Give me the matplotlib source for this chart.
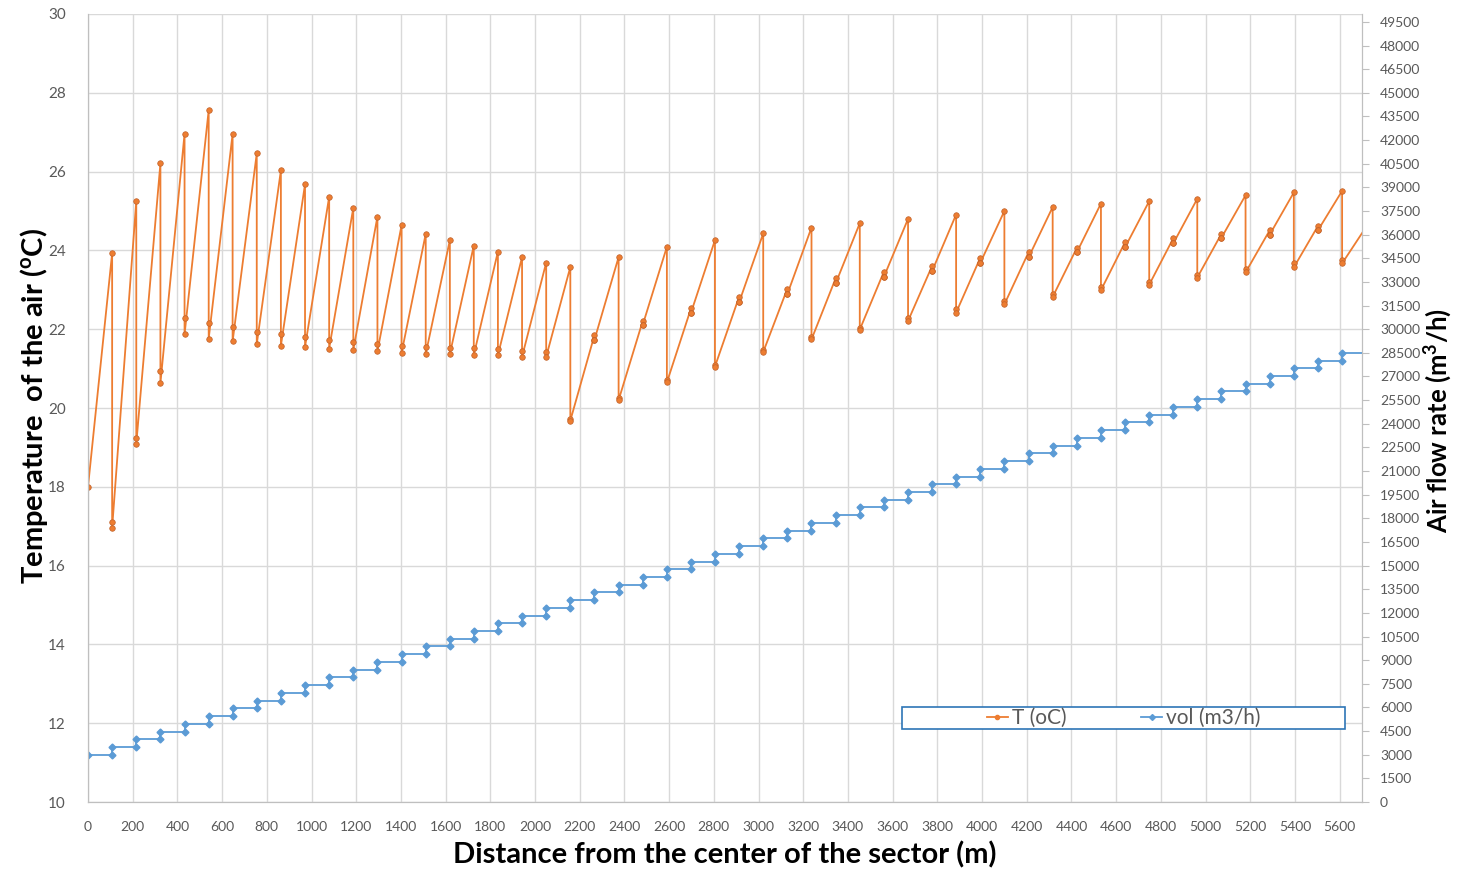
import matplotlib
matplotlib.use("Agg")
from matplotlib import pyplot as plt
from matplotlib.lines import Line2D
from matplotlib.patches import Rectangle

plt.rcParams['font.family'] = ['Lato', 'DejaVu Sans']
plt.rcParams['mathtext.fontset'] = 'custom'
plt.rcParams['mathtext.rm'] = 'Lato'
plt.rcParams['mathtext.bf'] = 'Lato:bold'

# node positions along the pipe (m)
node_dist = [0, 108, 216, 324, 432, 540, 647, 755, 863, 971,
             1079, 1187, 1295, 1403, 1511, 1619, 1726, 1834, 1942, 2050,
             2158, 2266, 2374, 2482, 2590, 2698, 2805, 2913, 3021, 3129,
             3237, 3345, 3453, 3561, 3669, 3777, 3884, 3992, 4100, 4208,
             4316, 4424, 4532, 4640, 4748, 4856, 4963, 5071, 5179, 5287,
             5395, 5503, 5611, 5719]

# temperature at each node: arriving, after mixing, leaving
t_in = [18.0, 23.93, 25.25, 26.21, 26.96, 27.56, 26.96, 26.46, 26.03, 25.68,
        25.36, 25.08, 24.86, 24.64, 24.42, 24.26, 24.12, 23.97, 23.83, 23.69,
        23.58, 21.85, 23.83, 22.21, 24.09, 22.53, 24.26, 22.82, 24.43, 23.03,
        24.58, 23.29, 24.69, 23.46, 24.80, 23.61, 24.91, 23.81, 25.00, 23.95,
        25.10, 24.06, 25.19, 24.21, 25.25, 24.31, 25.31, 24.42, 25.40, 24.51,
        25.47, 24.62, 25.51, 24.60]
t_mix = [18.0, 17.10, 19.25, 20.94, 22.29, 22.15, 22.05, 21.94, 21.87, 21.80,
         21.73, 21.68, 21.62, 21.58, 21.55, 21.52, 21.52, 21.49, 21.45, 21.42,
         19.72, 21.73, 20.25, 22.11, 20.70, 22.42, 21.10, 22.68, 21.47, 22.89,
         21.79, 23.16, 22.04, 23.33, 22.29, 23.48, 22.51, 23.68, 22.72, 23.82,
         22.90, 23.95, 23.08, 24.08, 23.21, 24.18, 23.38, 24.32, 23.53, 24.40,
         23.67, 24.51, 23.76, 24.60]
t_out = [18.0, 16.96, 19.09, 20.63, 21.87, 21.76, 21.69, 21.62, 21.58, 21.55,
         21.51, 21.47, 21.44, 21.40, 21.37, 21.37, 21.34, 21.34, 21.30, 21.30,
         19.68, 21.73, 20.20, 22.11, 20.65, 22.42, 21.05, 22.68, 21.42, 22.89,
         21.74, 23.16, 21.99, 23.33, 22.21, 23.48, 22.42, 23.68, 22.63, 23.82,
         22.82, 23.95, 22.99, 24.08, 23.13, 24.18, 23.31, 24.32, 23.44, 24.40,
         23.57, 24.51, 23.67, 24.60]

# air flow leaving each node (m3/h)
vol = [3000, 3490, 3980, 4470, 4960, 5450, 5940, 6430, 6920, 7410,
       7900, 8390, 8880, 9380, 9870, 10360, 10850, 11340, 11830, 12320,
       12810, 13300, 13790, 14280, 14770, 15260, 15750, 16240, 16730, 17220,
       17710, 18200, 18690, 19180, 19670, 20160, 20650, 21150, 21640, 22130,
       22620, 23110, 23600, 24090, 24580, 25070, 25560, 26050, 26540, 27030,
       27520, 28010, 28500, 28990]

T_COL = '#ED7D31'
V_COL = '#5B9BD5'
GRID = '#d9d9d9'
TXT = '#595959'

# build the point sequences
tx, ty = [], []
for i, d in enumerate(node_dist):
    if i == 0:
        tx.append(d); ty.append(t_in[i])
        continue
    tx += [d, d, d]
    ty += [t_in[i], t_mix[i], t_out[i]]

vx, vy = [node_dist[0]], [vol[0]]
for i in range(1, len(node_dist)):
    vx += [node_dist[i], node_dist[i]]
    vy += [vol[i - 1], vol[i]]

fig = plt.figure(figsize=(14.66, 8.71), dpi=100)
ax = fig.add_axes([88 / 1466, 1 - 802 / 871, (1362 - 88) / 1466, (802 - 14) / 871])
ax2 = ax.twinx()

ax.plot(tx, ty, color=T_COL, lw=1.3, marker='o', ms=4, mec='#c0612a', mew=0.5)
ax2.plot(vx, vy, color=V_COL, lw=1.3, marker='D', ms=3.5, mec=V_COL)

ax.set_xlim(0, 5700)
ax.set_ylim(10, 30)
ax2.set_ylim(0, 50000)
ax.set_xticks(range(0, 5601, 200))
ax.set_yticks(range(10, 31, 2))
ax2.set_yticks(range(0, 49501, 1500))

ax.grid(True, color=GRID, lw=1)
ax.set_axisbelow(True)
for a in (ax, ax2):
    for s in a.spines.values():
        s.set_color('#bfbfbf')
    a.spines['top'].set_visible(False)

ax.tick_params(axis='x', length=0, pad=14, labelsize=10, labelcolor=TXT)
ax.tick_params(axis='y', length=0, pad=16, labelsize=11, labelcolor=TXT)
ax2.tick_params(axis='y', length=5, color='#bfbfbf', pad=8, labelsize=10, labelcolor=TXT)

ax.set_xlabel('Distance from the center of the sector (m)', fontsize=21,
              fontweight='bold', labelpad=6)
ax.set_ylabel(r'Temperature  of the air ($\mathbf{^o}$C)', fontsize=21,
              fontweight='bold')
ax.yaxis.set_label_coords(-0.0299, 0.502)
ax2.set_ylabel(r'Air flow rate (m$\mathbf{^3}$/h)', fontsize=18.5,
               fontweight='bold')
ax2.yaxis.set_label_coords(1.0471, 0.4835)

# legend box drawn as its own rectangle, entries centred in it
box = Rectangle((0.639, 0.0926), 0.348, 0.028, transform=ax2.transAxes,
                facecolor='white', edgecolor='#2E75B6', lw=1.2, zorder=5)
ax2.add_patch(box)
handles = [Line2D([], [], color=T_COL, lw=1.3, marker='o', ms=3),
           Line2D([], [], color=V_COL, lw=1.3, marker='D', ms=3)]
leg = ax2.legend(handles, ['T (oC)', 'vol (m3/h)'], ncol=2, loc='center',
                 bbox_to_anchor=(0.639 + 0.174, 0.0926 + 0.014),
                 frameon=False, fontsize=15, borderpad=0, handlelength=1.0,
                 handletextpad=0.2, columnspacing=3.6, labelcolor=TXT)
leg.set_zorder(6)

fig.savefig('out.png', dpi=100)
